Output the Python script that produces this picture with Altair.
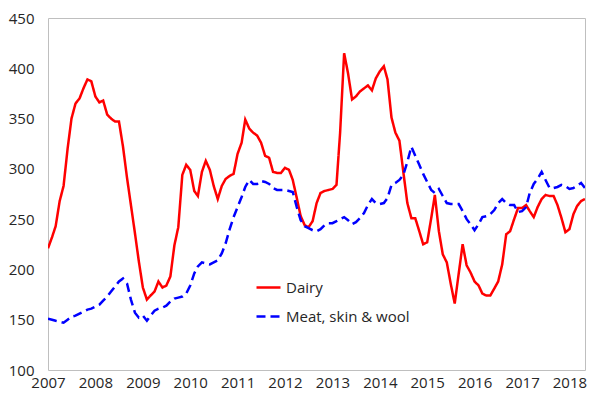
import altair as alt
import pandas as pd

dairy = [
    221, 232, 243, 268, 283, 320, 350, 365, 370, 380, 389, 387,
    372, 366, 368, 354, 350, 347, 347, 322, 291, 264, 236, 208,
    182, 170, 174, 178, 188, 182, 184, 193, 224, 242, 294, 304,
    299, 278, 273, 297, 308, 299, 283, 270, 283, 290, 293, 295,
    315, 326, 349, 340, 336, 333, 326, 313, 311, 297, 296, 296,
    301, 299, 289, 271, 253, 244, 242, 248, 266, 276, 278, 279,
    280, 284, 336, 415, 395, 369, 372, 377, 380, 383, 378, 390,
    397, 402, 389, 351, 336, 328, 297, 266, 251, 251, 238, 225,
    227, 251, 274, 238, 215, 207, 186, 166, 196, 225, 204, 197,
    188, 184, 176, 174, 174, 181, 188, 205, 235, 238, 250, 261,
    261, 264, 258, 252, 262, 270, 274, 273, 273, 264, 251, 237,
    240, 255, 263, 268, 270,
]

meat = [
    151, 150, 149, 148, 147, 150, 153, 154, 156, 158, 160, 161,
    163, 165, 169, 173, 178, 183, 188, 191, 186, 170, 157, 152,
    154, 149, 154, 159, 161, 162, 164, 168, 171, 172, 173, 176,
    184, 196, 203, 207, 206, 205, 207, 209, 216, 226, 240, 252,
    262, 272, 282, 289, 285, 285, 288, 287, 285, 281, 279, 279,
    279, 278, 277, 262, 249, 243, 241, 239, 238, 240, 244, 246,
    246, 248, 250, 252, 249, 245, 247, 251, 256, 264, 270, 266,
    265, 266, 271, 284, 286, 289, 294, 307, 322, 313, 304, 295,
    287, 279, 276, 280, 273, 266, 265, 265, 265, 258, 250, 245,
    239, 245, 252, 253, 255, 259, 266, 270, 266, 264, 264, 257,
    258, 262, 276, 285, 290, 297, 289, 281, 281, 282, 284, 283,
    280, 281, 283, 286, 281,
]

series_names = ["Dairy", "Meat, skin & wool"]
year_ticks = list(range(2007, 2019))
y_ticks = [100, 150, 200, 250, 300, 350, 400, 450]

dates = pd.date_range("2007-01-01", periods=len(dairy), freq="MS")
df = pd.concat([
    pd.DataFrame({"date": dates, "value": dairy, "series": series_names[0]}),
    pd.DataFrame({"date": dates, "value": meat, "series": series_names[1]}),
])
df["date"] = df["date"].dt.strftime("%Y-%m-%dT00:00:00")

FONT = "Open Sans"
TXT = "#262626"

chart = alt.Chart(df).mark_line(strokeWidth=2.5, clip=True).encode(
    x=alt.X(
        "date:T",
        title=None,
        scale=alt.Scale(domain=[alt.DateTime(year=2007, month=1, date=1),
                                alt.DateTime(year=2018, month=5, date=1)]),
        axis=alt.Axis(
            values=[alt.DateTime(year=y, month=1, date=1) for y in year_ticks],
            format="%Y",
            labelFlush=False,
            labelOverlap=False,
            ticks=False,
            domain=False,
            grid=False,
            labelPadding=5,
        ),
    ),
    y=alt.Y(
        "value:Q",
        title=None,
        scale=alt.Scale(domain=[100, 450], nice=False, zero=False),
        axis=alt.Axis(values=y_ticks, ticks=False, domain=False, grid=False,
                      labelPadding=14),
    ),
    color=alt.Color(
        "series:N",
        scale=alt.Scale(domain=series_names, range=["#FF0000", "#0000FF"]),
        legend=alt.Legend(
            title=None,
            orient="none",
            legendX=207,
            legendY=256,
            symbolType="stroke",
            symbolSize=576,
            symbolStrokeWidth=2.5,
            labelFont=FONT,
            labelFontSize=15,
            labelColor=TXT,
            labelOffset=4,
            rowPadding=7,
            padding=0,
        ),
    ),
    strokeDash=alt.StrokeDash(
        "series:N",
        scale=alt.Scale(domain=series_names, range=[[1, 0], [9, 5]]),
        legend=None,
    ),
).properties(
    width=537,
    height=352,
    autosize=alt.AutoSizeParams(type="none"),
    padding={"left": 40, "top": 10, "right": 2, "bottom": 23},
).configure(
    background="white"
).configure_view(
    stroke="#BFBFBF", strokeWidth=1
).configure_axis(
    labelFont=FONT, labelFontSize=15, labelColor=TXT
)

chart.save("out.html", embed_options={"renderer": "svg", "actions": False})
